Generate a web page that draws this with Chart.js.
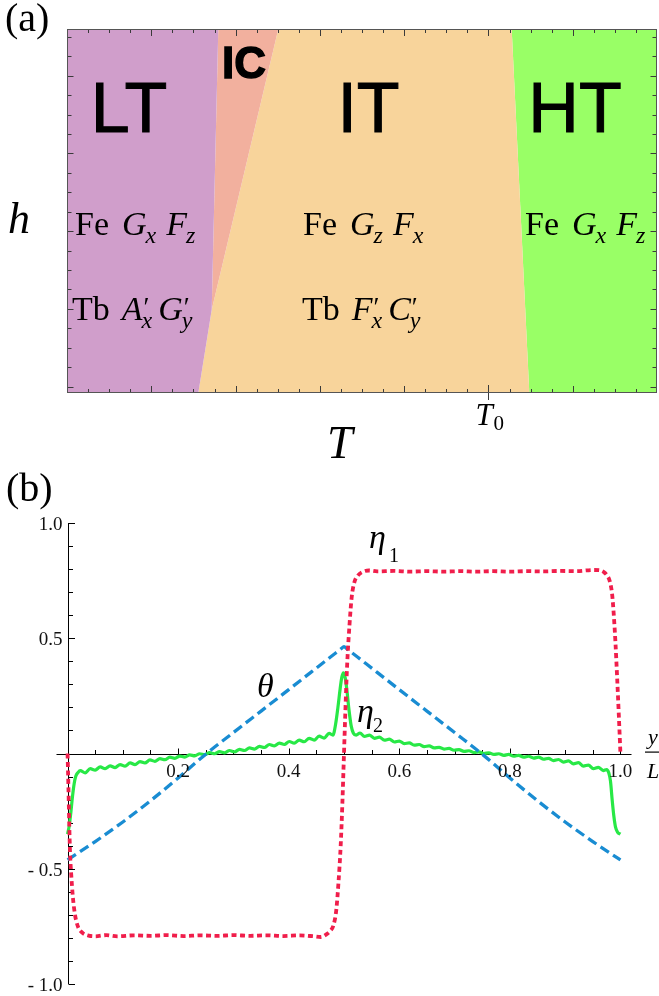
<!DOCTYPE html>
<html>
<head>
<meta charset="utf-8">
<script src="https://cdn.jsdelivr.net/npm/chart.js@4.4.1/dist/chart.umd.min.js"></script>
<style>
  html, body { margin: 0; padding: 0; background: #fff; }
  #wrap { position: relative; width: 659px; height: 996px; overflow: hidden; background: #fff; }
  canvas { position: absolute; left: 0; }
  #phase { top: 0; }
  #profile { top: 465px; }
</style>
</head>
<body>
<div id="wrap">
  <canvas id="phase" width="659" height="465"></canvas>
  <canvas id="profile" width="659" height="531"></canvas>
</div>
<script>
// ---------- (a) phase diagram in the (T, h) plane ----------
const tRange = [0, 7];
const hRange = [-0.33, 18.4];
const tZero = 5;                       // position of the T0 mark on the T axis

// region outlines (T values, h values); first vertex has the smallest T, last the largest
const ltT = [0, 0, 1.558, 1.717, 1.795];
const ltH = [18.4, -0.33, -0.33, 3.95, 18.4];
const icT = [1.717, 1.795, 2.507];
const icH = [3.95, 18.4, 18.4];
const itT = [1.558, 1.717, 2.507, 5.276, 5.485];
const itH = [-0.33, 3.95, 18.4, 18.4, -0.33];
const htT = [5.276, 5.485, 7, 7];
const htH = [18.4, -0.33, -0.33, 18.4];
const regionLabels = ['LT', 'IC', 'IT', 'HT'];

// ---------- (b) order-parameter profiles across the sample ----------
const yRangeB = [-1, 1];
const xRangeB = [-0.02, 1.02];
const yTickValues = [1, 0.5, -0.5, -1];
const yTickLabels = ['1.0', '0.5', '- 0.5', '- 1.0'];
const xTickValues = [0.2, 0.4, 0.6, 0.8, 1.0];
const xTickLabels = ['0.2', '0.4', '0.6', '0.8', '1.0'];

const eta1X = [0, 0.0015, 0.003, 0.0045, 0.0065, 0.0095, 0.0135, 0.019, 0.027, 0.038, 0.05, 0.07, 0.09, 0.12, 0.15, 0.18, 0.21, 0.24, 0.27, 0.30, 0.33, 0.36, 0.39, 0.42, 0.445, 0.458, 0.468, 0.475, 0.481, 0.486, 0.490, 0.494, 0.497, 0.500, 0.503, 0.506, 0.510, 0.514, 0.519, 0.525, 0.533, 0.545, 0.56, 0.59, 0.62, 0.65, 0.68, 0.71, 0.74, 0.77, 0.80, 0.83, 0.86, 0.89, 0.92, 0.95, 0.962, 0.970, 0.976, 0.981, 0.985, 0.988, 0.991, 0.994, 0.997, 1.0];
const eta1Y = [0, -0.14, -0.30, -0.43, -0.52, -0.62, -0.70, -0.752, -0.778, -0.790, -0.793, -0.788, -0.793, -0.789, -0.791, -0.788, -0.792, -0.789, -0.791, -0.788, -0.791, -0.789, -0.792, -0.789, -0.793, -0.796, -0.785, -0.770, -0.745, -0.680, -0.560, -0.400, -0.220, 0.000, 0.220, 0.400, 0.560, 0.680, 0.745, 0.772, 0.787, 0.794, 0.790, 0.792, 0.789, 0.791, 0.789, 0.791, 0.789, 0.791, 0.789, 0.791, 0.790, 0.792, 0.791, 0.796, 0.795, 0.787, 0.772, 0.745, 0.690, 0.600, 0.480, 0.330, 0.170, 0.0];

const thetaX = [0, 0.05, 0.10, 0.15, 0.20, 0.25, 0.30, 0.35, 0.40, 0.44, 0.47, 0.485, 0.495, 0.5, 0.505, 0.515, 0.53, 0.56, 0.60, 0.65, 0.70, 0.75, 0.80, 0.85, 0.90, 0.95, 1.0];
const thetaY = [-0.462, -0.382, -0.297, -0.205, -0.106, -0.003, 0.091, 0.184, 0.277, 0.352, 0.408, 0.436, 0.455, 0.464, 0.455, 0.436, 0.408, 0.352, 0.277, 0.184, 0.091, -0.003, -0.106, -0.205, -0.297, -0.382, -0.462];

const eta2X = [0, 0.003, 0.006, 0.009, 0.012, 0.015, 0.019, 0.023, 0.032, 0.041, 0.050, 0.059, 0.068, 0.077, 0.086, 0.095, 0.104, 0.113, 0.122, 0.131, 0.140, 0.149, 0.158, 0.167, 0.176, 0.185, 0.194, 0.203, 0.212, 0.221, 0.230, 0.239, 0.248, 0.257, 0.266, 0.275, 0.284, 0.293, 0.302, 0.311, 0.320, 0.329, 0.338, 0.347, 0.356, 0.365, 0.374, 0.383, 0.392, 0.401, 0.410, 0.419, 0.428, 0.437, 0.446, 0.455, 0.464, 0.473, 0.480, 0.485, 0.489, 0.493, 0.496, 0.499, 0.502, 0.505, 0.509, 0.513, 0.517, 0.522, 0.529, 0.537, 0.546, 0.555, 0.564, 0.573, 0.582, 0.591, 0.600, 0.609, 0.618, 0.627, 0.636, 0.645, 0.654, 0.663, 0.672, 0.681, 0.690, 0.699, 0.708, 0.717, 0.726, 0.735, 0.744, 0.753, 0.762, 0.771, 0.780, 0.789, 0.798, 0.807, 0.816, 0.825, 0.834, 0.843, 0.852, 0.861, 0.870, 0.879, 0.888, 0.897, 0.906, 0.915, 0.924, 0.933, 0.942, 0.951, 0.960, 0.969, 0.975, 0.979, 0.982, 0.985, 0.988, 0.991, 0.995, 1.0];
const eta2Y = [-0.350, -0.315, -0.255, -0.185, -0.130, -0.098, -0.082, -0.074, -0.084, -0.066, -0.072, -0.058, -0.066, -0.054, -0.061, -0.048, -0.055, -0.041, -0.048, -0.035, -0.041, -0.028, -0.034, -0.022, -0.027, -0.016, -0.021, -0.011, -0.016, -0.006, -0.010, -0.001, -0.005, 0.004, -0.001, 0.008, 0.003, 0.013, 0.007, 0.018, 0.013, 0.024, 0.019, 0.031, 0.026, 0.039, 0.033, 0.045, 0.039, 0.052, 0.045, 0.058, 0.051, 0.066, 0.058, 0.075, 0.067, 0.087, 0.080, 0.13, 0.20, 0.28, 0.33, 0.350, 0.33, 0.28, 0.19, 0.12, 0.088, 0.080, 0.089, 0.074, 0.080, 0.066, 0.071, 0.058, 0.062, 0.050, 0.054, 0.043, 0.046, 0.036, 0.039, 0.030, 0.033, 0.024, 0.027, 0.019, 0.022, 0.014, 0.017, 0.009, 0.012, 0.004, 0.007, 0.000, 0.003, -0.004, -0.001, -0.008, -0.004, -0.012, -0.008, -0.016, -0.012, -0.020, -0.016, -0.025, -0.021, -0.031, -0.026, -0.037, -0.032, -0.045, -0.040, -0.055, -0.050, -0.066, -0.060, -0.074, -0.070, -0.085, -0.120, -0.200, -0.270, -0.318, -0.342, -0.350];

const toPoints = (xs, ys) => xs.map((x, i) => ({ x: x, y: ys[i] }));

// ---------- text helpers ----------
const SERIF = '"Liberation Serif", "Times New Roman", serif';
const SANS = '"Liberation Sans", Arial, sans-serif';

// draws a run of roman text, math italics and sub/superscripts starting at (x, y baseline)
function mathLine(ctx, x, y, parts, size) {
  const rm = size + 'px ' + SERIF;
  const it = 'italic ' + size + 'px ' + SERIF;
  const sub = 'italic ' + Math.round(size * 0.7) + 'px ' + SERIF;
  const sup = Math.round(size * 0.8) + 'px ' + SERIF;
  ctx.textAlign = 'left';
  ctx.textBaseline = 'alphabetic';
  for (const p of parts) {
    if (p.gap) { x += p.gap; continue; }
    if (p.rm) { ctx.font = rm; ctx.fillText(p.rm, x, y); x += ctx.measureText(p.rm).width; continue; }
    ctx.font = it; ctx.fillText(p.it, x, y); x += ctx.measureText(p.it).width;
    let w = 0;
    if (p.sup) { ctx.font = sup; ctx.fillText(p.sup, x + 1, y - size * 0.12); w = ctx.measureText(p.sup).width + 1; }
    if (p.sub) { ctx.font = sub; ctx.fillText(p.sub, x - 1, y + size * 0.24); w = Math.max(w, ctx.measureText(p.sub).width - 1); }
    x += w;
  }
}

function heavyText(ctx, text, x, y, font, stroke) {
  ctx.font = font;
  ctx.textAlign = 'center';
  ctx.textBaseline = 'alphabetic';
  ctx.fillStyle = '#000';
  ctx.fillText(text, x, y);
  if (stroke > 0) {
    ctx.lineWidth = stroke;
    ctx.lineJoin = 'miter';
    ctx.strokeStyle = '#000';
    ctx.strokeText(text, x, y);
  }
}

// ---------- (a) frame, ticks and annotations ----------
const phaseDecor = {
  id: 'phaseDecor',
  afterDatasetsDraw(chart) {
    const ctx = chart.ctx;
    const xs = chart.scales.x, ys = chart.scales.y;
    const { left, right, top, bottom } = chart.chartArea;
    ctx.save();
    ctx.strokeStyle = '#3a3a3a';
    ctx.lineWidth = 1;
    ctx.beginPath();
    // T ticks: quarter steps, longer on whole values
    for (let k = 1; k < 28; k++) {
      const t = k * 0.25;
      const x = Math.round(xs.getPixelForValue(t)) + 0.5;
      const len = (k % 4 === 0) ? 7 : 4;
      ctx.moveTo(x, top); ctx.lineTo(x, top + len);
      if (t === tZero) { ctx.moveTo(x, bottom - 8); ctx.lineTo(x, bottom + 7); }
      else { ctx.moveTo(x, bottom); ctx.lineTo(x, bottom - len); }
    }
    // h ticks
    for (let j = 0; j <= 18; j++) {
      const y = Math.round(ys.getPixelForValue(j)) + 0.5;
      const len = (j % 4 === 0) ? 6.5 : 4.5;
      ctx.moveTo(left, y); ctx.lineTo(left + len, y);
      ctx.moveTo(right, y); ctx.lineTo(right - len, y);
    }
    ctx.stroke();
    ctx.strokeStyle = '#555';
    ctx.strokeRect(left + 0.5, top + 0.5, right - left - 1, bottom - top - 1);

    // region names
    const big = '70px ' + SANS;
    heavyText(ctx, regionLabels[0], 129, 131.5, big, 1.0);
    heavyText(ctx, regionLabels[2], 368.5, 131.5, big, 1.0);
    heavyText(ctx, regionLabels[3], 575, 131.5, big, 1.0);
    heavyText(ctx, regionLabels[1], 244, 78, 'bold 44px ' + SANS, 1.4);

    // ordering of the Fe and Tb sublattices in each phase
    ctx.fillStyle = '#000';
    const s = 34;
    mathLine(ctx, 75, 235, [{ rm: 'Fe' }, { gap: 13 }, { it: 'G', sub: 'x' }, { gap: 10 }, { it: 'F', sub: 'z' }], s);
    mathLine(ctx, 72, 320, [{ rm: 'Tb' }, { gap: 12 }, { it: 'A', sup: '′', sub: 'x' }, { gap: 6 }, { it: 'G', sup: '′', sub: 'y' }], s);
    mathLine(ctx, 303, 235, [{ rm: 'Fe' }, { gap: 13 }, { it: 'G', sub: 'z' }, { gap: 10 }, { it: 'F', sub: 'x' }], s);
    mathLine(ctx, 302, 320, [{ rm: 'Tb' }, { gap: 12 }, { it: 'F', sup: '′', sub: 'x' }, { gap: 6 }, { it: 'C', sup: '′', sub: 'y' }], s);
    mathLine(ctx, 525, 235, [{ rm: 'Fe' }, { gap: 13 }, { it: 'G', sub: 'x' }, { gap: 10 }, { it: 'F', sub: 'z' }], s);

    // axis names and panel letter
    ctx.textAlign = 'left';
    ctx.textBaseline = 'alphabetic';
    ctx.font = '40px ' + SERIF;
    ctx.fillText('(a)', 5, 31);
    ctx.font = 'italic 44px ' + SERIF;
    ctx.fillText('h', 8, 233);
    ctx.font = 'italic 46px ' + SERIF;
    ctx.fillText('T', 327, 458);
    const x0 = xs.getPixelForValue(tZero);
    ctx.font = 'italic 31px ' + SERIF;
    ctx.fillText('T', x0 - 13, 425);
    ctx.font = '21px ' + SERIF;
    ctx.fillText('0', x0 + 5, 430);
    ctx.restore();
  }
};

const regionData = [
  [ltT, ltH, '#D09ECB'],
  [icT, icH, '#F2B09E'],
  [itT, itH, '#F8D49B'],
  [htT, htH, '#99FF66']
];

new Chart(document.getElementById('phase'), {
  type: 'line',
  data: {
    datasets: regionData.map(([ts, hs, c], i) => ({
      label: regionLabels[i],
      data: toPoints(ts, hs),
      fill: 'shape',
      backgroundColor: c,
      borderColor: 'rgba(0,0,0,0)',
      borderWidth: 0.001,
      pointRadius: 0,
      tension: 0
    }))
  },
  options: {
    responsive: false,
    animation: false,
    devicePixelRatio: 1,
    events: [],
    layout: { padding: { left: 67, top: 29, right: 2, bottom: 72 } },
    plugins: { legend: { display: false }, tooltip: { enabled: false } },
    scales: {
      x: { type: 'linear', min: tRange[0], max: tRange[1], display: false },
      y: { type: 'linear', min: hRange[0], max: hRange[1], display: false }
    }
  },
  plugins: [phaseDecor]
});

// ---------- (b) axes through the origin, ticks and curve names ----------
const profileAxes = {
  id: 'profileAxes',
  beforeDatasetsDraw(chart) {
    const ctx = chart.ctx;
    const xs = chart.scales.x, ys = chart.scales.y;
    const { left, right } = chart.chartArea;
    const y0 = Math.round(ys.getPixelForValue(0)) + 0.5;
    const x0 = Math.round(xs.getPixelForValue(0)) + 0.5;
    ctx.save();
    ctx.strokeStyle = '#000';
    ctx.lineWidth = 1;
    ctx.beginPath();
    ctx.moveTo(left, y0); ctx.lineTo(right, y0);
    ctx.moveTo(x0, ys.getPixelForValue(yRangeB[1])); ctx.lineTo(x0, ys.getPixelForValue(yRangeB[0]));
    for (let k = 1; k <= 20; k++) {
      const x = Math.round(xs.getPixelForValue(k * 0.05)) + 0.5;
      const len = (k % 4 === 0) ? 6 : 4.5;
      ctx.moveTo(x, y0); ctx.lineTo(x, y0 - len);
    }
    for (let k = -10; k <= 10; k++) {
      if (k === 0) continue;
      const y = Math.round(ys.getPixelForValue(k * 0.1)) + 0.5;
      const len = (k % 5 === 0) ? 6.5 : 4.5;
      ctx.moveTo(x0, y); ctx.lineTo(x0 + len, y);
    }
    ctx.stroke();
    ctx.restore();
  },
  afterDatasetsDraw(chart) {
    const ctx = chart.ctx;
    const xs = chart.scales.x, ys = chart.scales.y;
    const y0 = ys.getPixelForValue(0);
    const x0 = xs.getPixelForValue(0);
    ctx.save();
    ctx.fillStyle = '#111';
    ctx.font = '19px ' + SERIF;
    ctx.textAlign = 'right';
    ctx.textBaseline = 'middle';
    yTickValues.forEach((v, i) => ctx.fillText(yTickLabels[i], x0 - 5, ys.getPixelForValue(v) + 2));
    ctx.textAlign = 'center';
    ctx.textBaseline = 'alphabetic';
    xTickValues.forEach((v, i) => ctx.fillText(xTickLabels[i], xs.getPixelForValue(v), y0 + 23));

    // y / L
    ctx.fillStyle = '#000';
    ctx.font = 'italic 22px ' + SERIF;
    ctx.textAlign = 'left';
    ctx.fillText('y', 648, y0 - 10);
    ctx.fillText('L', 647, y0 + 24);
    ctx.fillRect(645, y0 - 2, 16, 1.2);

    // panel letter and curve names
    ctx.font = '40px ' + SERIF;
    ctx.fillText('(b)', 6, 36);
    ctx.font = 'italic 34px ' + SERIF;
    ctx.fillText('θ', 257, 232);
    ctx.fillText('η', 369, 83);
    ctx.fillText('η', 357, 257);
    ctx.font = '20px ' + SERIF;
    ctx.fillText('1', 389, 97);
    ctx.fillText('2', 373, 267);
    ctx.restore();
  }
};

new Chart(document.getElementById('profile'), {
  type: 'line',
  data: {
    datasets: [
      {
        label: 'η1',
        data: toPoints(eta1X, eta1Y),
        borderColor: 'rgb(240,30,75)',
        borderWidth: 3.8,
        borderDash: [5, 3.5],
        borderCapStyle: 'butt',
        cubicInterpolationMode: 'monotone',
        pointRadius: 0,
        fill: false
      },
      {
        label: 'θ',
        data: toPoints(thetaX, thetaY),
        borderColor: 'rgb(25,140,210)',
        borderWidth: 3.3,
        borderDash: [10, 5],
        borderCapStyle: 'butt',
        cubicInterpolationMode: 'monotone',
        pointRadius: 0,
        fill: false
      },
      {
        label: 'η2',
        data: toPoints(eta2X, eta2Y),
        borderColor: 'rgb(40,232,70)',
        borderWidth: 3.2,
        cubicInterpolationMode: 'monotone',
        pointRadius: 0,
        fill: false
      }
    ]
  },
  options: {
    responsive: false,
    animation: false,
    devicePixelRatio: 1,
    events: [],
    layout: { padding: { left: 56.5, top: 58, right: 27.5, bottom: 12 } },
    plugins: { legend: { display: false }, tooltip: { enabled: false } },
    scales: {
      x: { type: 'linear', min: xRangeB[0], max: xRangeB[1], display: false },
      y: { type: 'linear', min: yRangeB[0], max: yRangeB[1], display: false }
    }
  },
  plugins: [profileAxes]
});
</script>
</body>
</html>
